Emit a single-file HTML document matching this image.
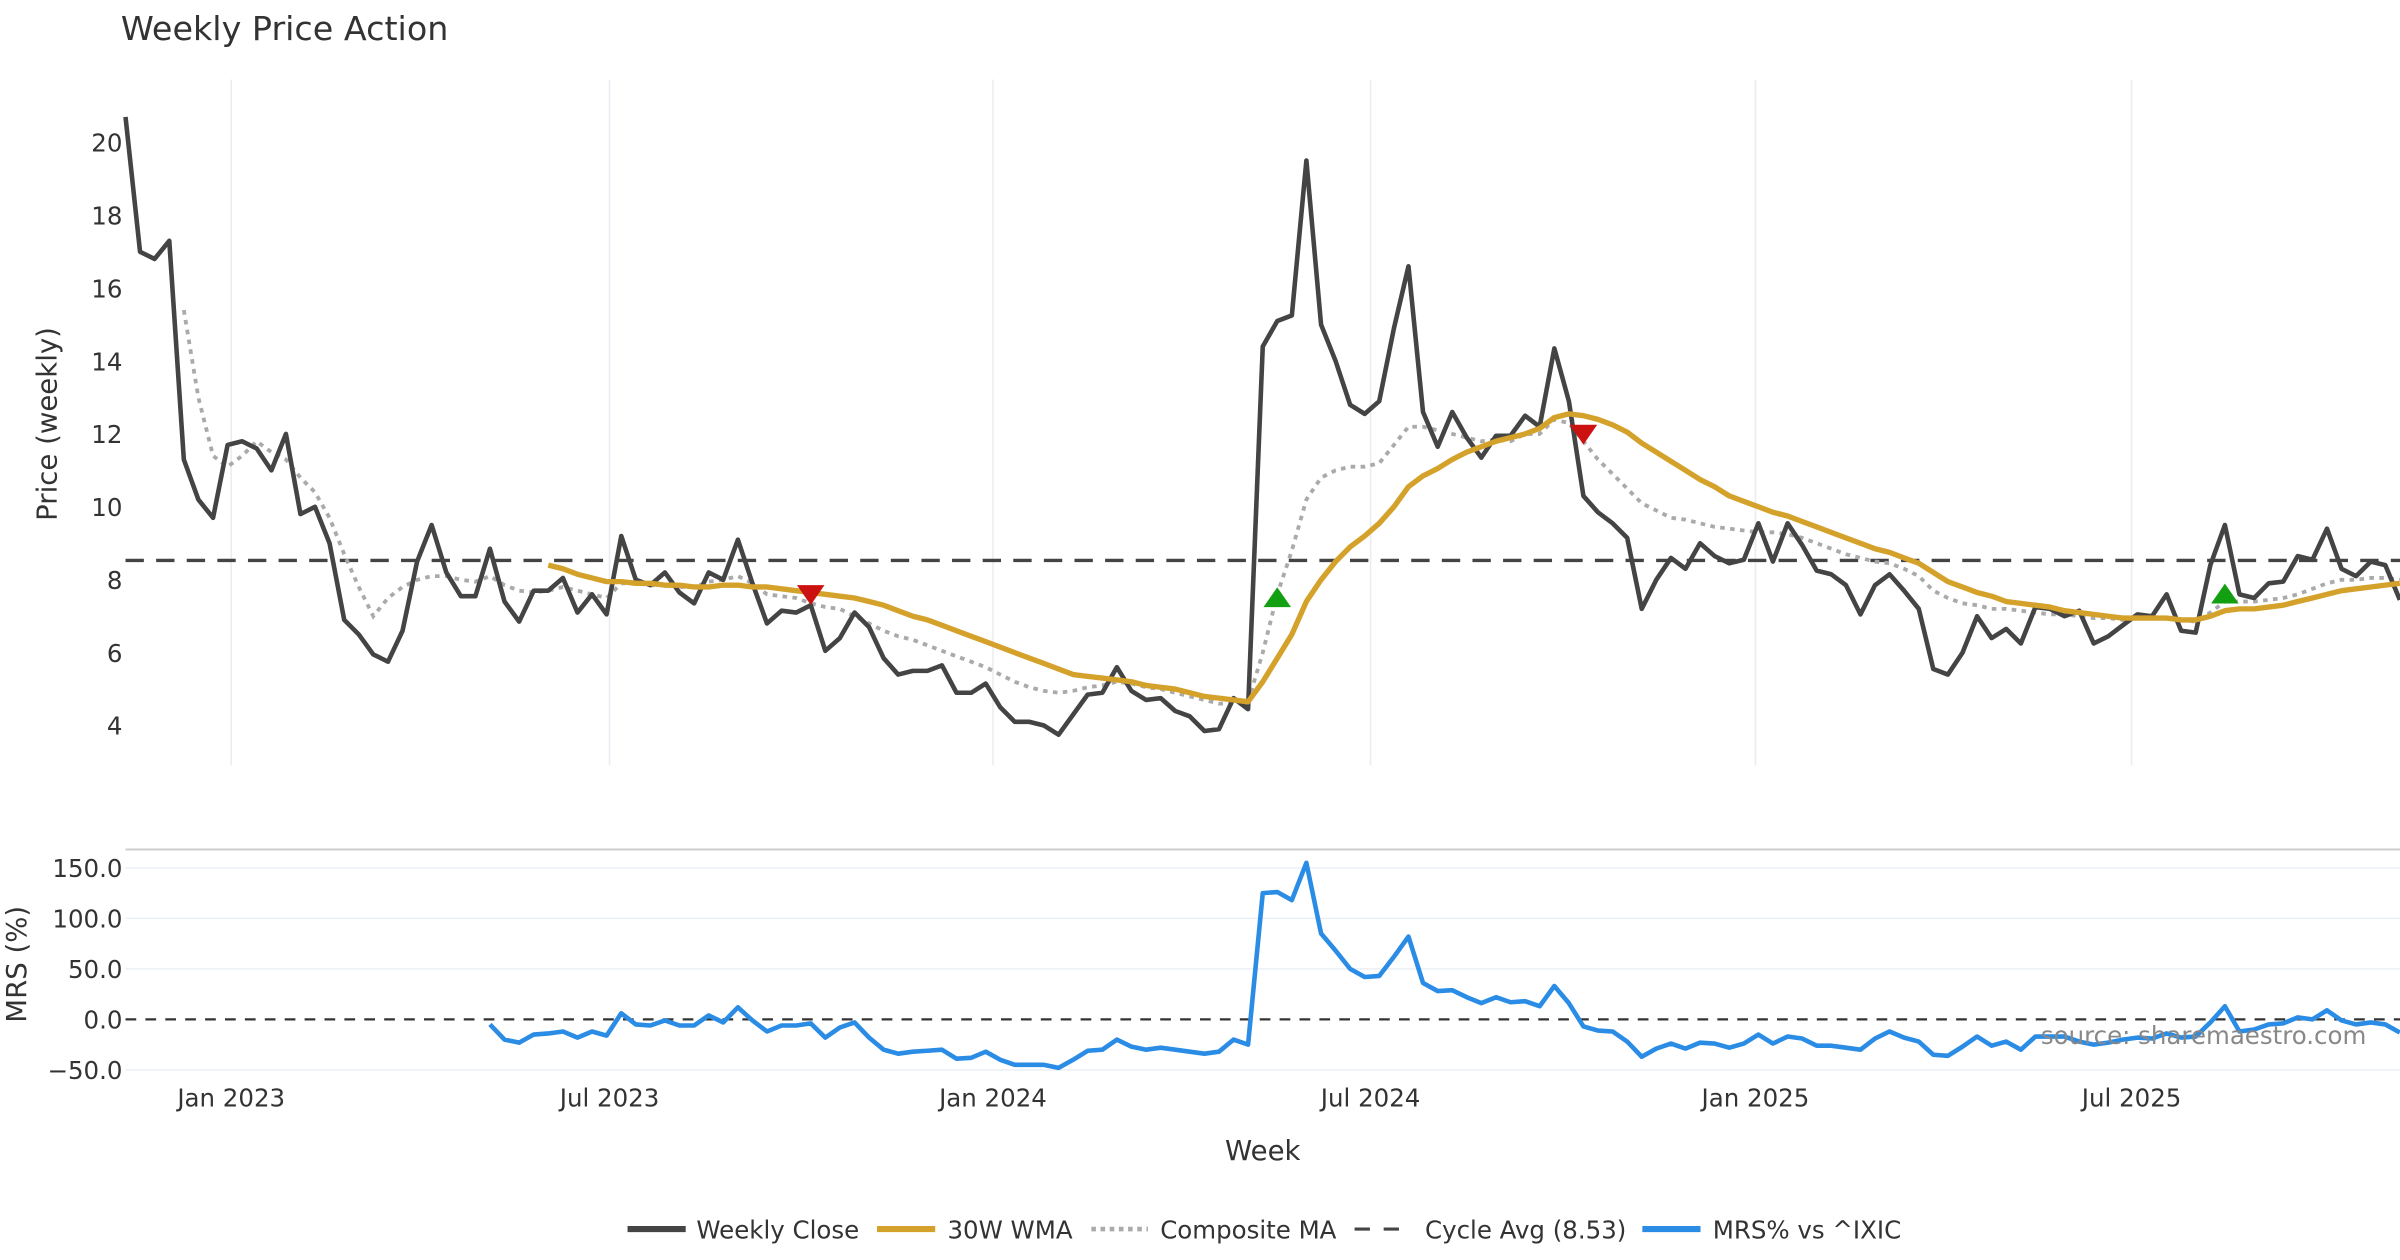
<!DOCTYPE html>
<html><head><meta charset="utf-8"><style>
html,body{margin:0;padding:0;background:#fff;}
svg{display:block;font-family:"DejaVu Sans","Liberation Sans",sans-serif;}
</style></head><body>
<svg id="chart" width="2400" height="1260" viewBox="0 0 1568 823.2" preserveAspectRatio="none" xmlns="http://www.w3.org/2000/svg">
<text x="79" y="26" font-size="21.8" fill="#333">Weekly Price Action</text>
<g id="grid"></g>
<g id="axes"></g>
<g id="series"></g>
<text transform="translate(37,277) rotate(-90)" text-anchor="middle" font-size="18" fill="#333">Price (weekly)</text>
<text transform="translate(17,630) rotate(-90)" text-anchor="middle" font-size="18" fill="#333">MRS (%)</text>
<text x="825" y="758" text-anchor="middle" font-size="18" fill="#333">Week</text>
<text x="1546" y="682" text-anchor="end" font-size="16" fill="#888">source: sharemaestro.com</text>
<g font-size="16" fill="#333">
<g><line x1="410" y1="803" x2="448" y2="803" stroke="#444" stroke-width="4"/><text x="455" y="809">Weekly Close</text></g>
<g><line x1="573" y1="803" x2="611" y2="803" stroke="#d4a22a" stroke-width="4"/><text x="619" y="809">30W WMA</text></g>
<g><line x1="713" y1="803" x2="750" y2="803" stroke="#aaa" stroke-width="3" stroke-dasharray="3,3"/><text x="758" y="809">Composite MA</text></g>
<g><line x1="885" y1="803" x2="922" y2="803" stroke="#444" stroke-width="2" stroke-dasharray="10,9"/><text x="931" y="809">Cycle Avg (8.53)</text></g>
<g><line x1="1073" y1="803" x2="1111" y2="803" stroke="#2b8ce6" stroke-width="4"/><text x="1119" y="809">MRS% vs ^IXIC</text></g>
</g>
</svg>
<script>
const closeVals=[20.7,17.0,16.8,17.3,11.3,10.2,9.7,11.7,11.8,11.6,11.0,12.0,9.8,10.0,9.0,6.9,6.5,5.95,5.75,6.6,8.5,9.5,8.2,7.55,7.55,8.85,7.4,6.85,7.7,7.7,8.05,7.1,7.6,7.05,9.2,8.0,7.85,8.2,7.65,7.35,8.2,8.0,9.1,7.9,6.8,7.15,7.1,7.3,6.05,6.4,7.1,6.7,5.85,5.4,5.5,5.5,5.65,4.9,4.9,5.15,4.5,4.1,4.1,4.0,3.75,4.3,4.85,4.9,5.6,4.95,4.7,4.75,4.4,4.25,3.85,3.9,4.75,4.45,14.4,15.1,15.25,19.5,15.0,14.0,12.8,12.55,12.9,14.9,16.6,12.6,11.65,12.6,11.9,11.35,11.95,11.95,12.5,12.2,14.35,12.9,10.3,9.85,9.55,9.15,7.2,8.0,8.6,8.3,9.0,8.65,8.45,8.55,9.55,8.5,9.55,8.95,8.25,8.15,7.85,7.05,7.85,8.15,7.7,7.2,5.55,5.4,6.0,7.0,6.4,6.65,6.25,7.25,7.2,7.0,7.15,6.25,6.45,6.75,7.05,7.0,7.6,6.6,6.55,8.4,9.5,7.6,7.5,7.9,7.95,8.65,8.55,9.4,8.3,8.1,8.5,8.4,7.45];
const wmaStart=29;
const wmaVals=[8.4,8.3,8.15,8.05,7.95,7.95,7.9,7.9,7.85,7.85,7.8,7.8,7.85,7.85,7.8,7.8,7.75,7.7,7.65,7.6,7.55,7.5,7.4,7.3,7.15,7.0,6.9,6.75,6.6,6.45,6.3,6.15,6.0,5.85,5.7,5.55,5.4,5.35,5.3,5.25,5.2,5.1,5.05,5.0,4.9,4.8,4.75,4.7,4.65,5.2,5.85,6.5,7.4,8.0,8.5,8.9,9.2,9.55,10.0,10.55,10.85,11.05,11.3,11.5,11.65,11.8,11.9,12.0,12.15,12.45,12.55,12.5,12.4,12.25,12.05,11.75,11.5,11.25,11.0,10.75,10.55,10.3,10.15,10.0,9.85,9.75,9.6,9.45,9.3,9.15,9.0,8.85,8.75,8.6,8.45,8.2,7.95,7.8,7.65,7.55,7.4,7.35,7.3,7.25,7.15,7.1,7.05,7.0,6.95,6.95,6.95,6.95,6.9,6.9,7.0,7.15,7.2,7.2,7.25,7.3,7.4,7.5,7.6,7.7,7.75,7.8,7.85,7.9];
const compStart=4;
const compVals=[15.4,13.0,11.4,11.1,11.4,11.8,11.5,11.3,10.8,10.4,9.7,8.7,7.8,7.0,7.5,7.8,8.0,8.1,8.1,8.0,7.95,8.1,7.85,7.7,7.65,7.7,7.8,7.7,7.6,7.5,7.9,7.9,7.85,7.85,7.8,7.8,7.95,8.0,8.1,7.9,7.6,7.55,7.5,7.35,7.25,7.2,7.0,6.8,6.6,6.45,6.35,6.2,6.05,5.9,5.75,5.6,5.4,5.2,5.05,4.95,4.9,4.95,5.05,5.1,5.2,5.15,5.05,5.0,4.9,4.8,4.7,4.6,4.6,4.65,6.0,7.6,8.8,10.2,10.8,11.0,11.1,11.1,11.2,11.7,12.2,12.2,12.1,12.0,11.9,11.8,11.85,11.8,12.0,12.0,12.4,12.3,11.8,11.3,10.9,10.5,10.1,9.9,9.7,9.65,9.55,9.45,9.4,9.35,9.3,9.3,9.25,9.15,9.0,8.85,8.7,8.6,8.5,8.45,8.3,8.1,7.7,7.5,7.35,7.3,7.2,7.2,7.15,7.1,7.05,7.05,7.0,6.95,6.95,6.9,6.95,6.95,6.95,6.9,6.85,7.1,7.4,7.4,7.4,7.45,7.5,7.6,7.75,7.9,8.0,8.0,8.05,8.05,8.0];
const mrsStart=25;
const mrsVals=[-5,-20,-23,-15,-14,-12,-18,-12,-16,6,-5,-6,-1,-6,-6,4,-3,12,-1,-12,-6,-6,-4,-18,-8,-3,-18,-30,-34,-32,-31,-30,-39,-38,-32,-40,-45,-45,-45,-48,-40,-31,-30,-20,-27,-30,-28,-30,-32,-34,-32,-20,-25,125,126,118,155,85,68,50,42,43,62,82,36,28,29,22,16,22,17,18,13,33,16,-7,-11,-12,-22,-37,-29,-24,-29,-23,-24,-28,-24,-15,-24,-17,-19,-26,-26,-28,-30,-19,-12,-18,-22,-35,-36,-27,-17,-26,-22,-30,-17,-17,-17,-22,-25,-23,-20,-18,-19,-14,-18,-17,-3,13,-12,-10,-5,-4,2,0,9,-1,-5,-3,-5,-13];
const cycleAvg=8.53;
const priceTicks=[4,6,8,10,12,14,16,18,20];
const mrsTicks=[-50,0,50,100,150];
const xTickLabels=["Jan 2023","Jul 2023","Jan 2024","Jul 2024","Jan 2025","Jul 2025"];
const xTickWeeks=[7.25,33.2,59.5,85.4,111.8,137.6];
const buyIdx=[79,144];
const buyVals=[7.5,7.6];
const sellIdx=[47,100];
const sellVals=[7.6,12.0];

const NS="http://www.w3.org/2000/svg";
const X=i=>82+i*9.525;
const Y=v=>474-(v-4)*23.81;
const M=v=>666-v*0.66;
function mk(tag,attrs,parent){const e=document.createElementNS(NS,tag);for(const k in attrs)e.setAttribute(k,attrs[k]);parent.appendChild(e);return e;}
const grid=document.getElementById('grid'),axes=document.getElementById('axes'),ser=document.getElementById('series');

xTickWeeks.forEach((w,k)=>{
  const l=mk('line',{x1:X(w),x2:X(w),y1:52,y2:500,stroke:'#ebebf2','stroke-width':1},grid);
  
  
  const t=mk('text',{x:X(w),y:723,'text-anchor':'middle','font-size':16,fill:'#333'},axes);
  t.textContent=xTickLabels[k];
  
  
});
priceTicks.forEach(v=>{
  const t=mk('text',{x:80,y:Y(v)+6,'text-anchor':'end','font-size':16,fill:'#333'},axes);
  t.textContent=v;
  
  
});
const sep=mk('line',{x1:82,x2:1568,y1:555,y2:555,stroke:'#ccc','stroke-width':1.3},grid);


mrsTicks.forEach(v=>{
  if(v!==0){const g=mk('line',{x1:82,x2:1568,y1:M(v),y2:M(v),stroke:'#ebeff4','stroke-width':1},grid);
  
  }
  const t=mk('text',{x:80,y:M(v)+6,'text-anchor':'end','font-size':16,fill:'#333'},axes);
  t.textContent=v.toFixed(1).replace('-','\u2212');
  
  
});
const zero=mk('line',{x1:82,x2:1568,y1:M(0),y2:M(0),stroke:'#333','stroke-width':1.5,'stroke-dasharray':'7,6'},ser);


const cyc=mk('line',{x1:82,x2:1568,y1:Y(cycleAvg),y2:Y(cycleAvg),stroke:'#444','stroke-width':2.2,'stroke-dasharray':'12,8'},ser);



function path(vals,start,yf){return vals.map((v,i)=>(i?'L':'M')+X(i+start).toFixed(1)+','+yf(v).toFixed(1)).join('');}
const comp=mk('path',{d:path(compVals,compStart,Y),fill:'none',stroke:'#aaa','stroke-width':2.5,'stroke-dasharray':'3,3.5'},ser);


const cl=mk('path',{d:path(closeVals,0,Y),fill:'none',stroke:'#444','stroke-width':3,'stroke-linejoin':'round'},ser);


const wm=mk('path',{d:path(wmaVals,wmaStart,Y),fill:'none',stroke:'#d4a22a','stroke-width':3.5,'stroke-linejoin':'round'},ser);


const mr=mk('path',{d:path(mrsVals,mrsStart,M),fill:'none',stroke:'#2b8ce6','stroke-width':3,'stroke-linejoin':'round'},ser);


buyIdx.forEach((i,k)=>{
  const x=X(i),y=Y(buyVals[k]);
  const p=mk('path',{d:`M${x-9},${y+6}L${x+9},${y+6}L${x},${y-7}Z`,fill:'#12a012'},ser);
  
  
});
sellIdx.forEach((i,k)=>{
  const x=X(i),y=Y(sellVals[k]);
  const p=mk('path',{d:`M${x-9},${y-6}L${x+9},${y-6}L${x},${y+7}Z`,fill:'#cc1111'},ser);
  
  
});
</script>
</body></html>
